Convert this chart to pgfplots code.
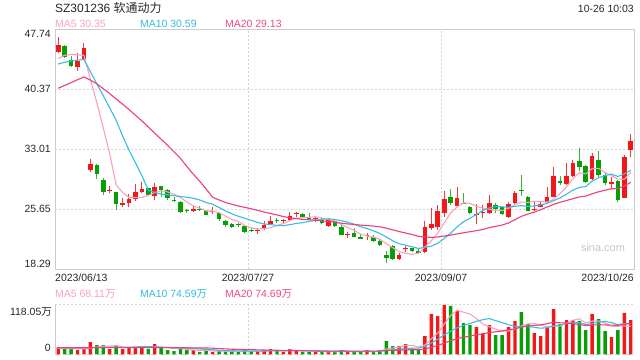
\documentclass[border=0pt]{standalone}
\usepackage{pgfplots}
\usepackage{pgfplotstable}
\pgfplotsset{compat=1.18}
\usepackage{fontspec}
\setmainfont{Liberation Sans}
\newfontfamily\cjk{Noto Sans CJK SC}
\definecolor{cred}{RGB}{242,24,24}
\definecolor{cgreen}{RGB}{6,160,6}
\definecolor{cma5}{RGB}{248,162,192}
\definecolor{cma10}{RGB}{56,190,226}
\definecolor{cma20}{RGB}{236,64,122}
\definecolor{tma5}{RGB}{247,163,196}
\definecolor{tma10}{RGB}{55,188,224}
\definecolor{tma20}{RGB}{236,75,130}
\definecolor{cframe}{RGB}{204,204,204}
\definecolor{cgrid}{RGB}{212,212,212}
\definecolor{ctext}{RGB}{40,40,40}

\pgfplotstableread{
i o h l c v
0 44.99 46.75 44.87 45.81 16.8
3 43.15 44.87 42.66 43.89 10.4
4 44.13 46.02 44.05 45.40 13.6
5 30.47 31.82 30.27 31.21 29.5
8 27.95 28.50 27.60 28.07 12.8
10 26.23 27.00 25.98 26.47 12.8
11 26.39 27.49 25.90 26.92 17.6
12 26.92 28.76 26.72 27.74 18.4
13 27.74 28.96 27.61 28.15 18.4
15 27.33 28.84 26.80 28.35 24.7
21 25.49 26.06 25.37 25.70 10.4
24 25.30 25.90 25.08 25.42 6.4
31 22.98 23.30 22.63 23.10 6.4
32 23.24 24.26 23.12 23.73 10.4
33 23.86 24.84 23.73 24.26 12.8
35 24.19 24.47 24.02 24.31 6.4
36 24.35 25.29 24.26 24.84 12.8
37 25.02 25.29 24.75 25.14 10.4
40 24.43 24.67 24.14 24.55 6.4
42 23.61 24.55 23.53 24.35 6.4
45 22.47 22.92 22.18 22.59 6.4
48 22.39 22.71 21.90 22.51 10.4
53 19.56 20.26 19.44 20.05 20.0
54 20.74 21.20 20.46 20.86 24.7
57 20.38 24.23 20.26 23.45 43.9
58 23.33 25.86 23.12 23.86 96.6
59 23.53 26.19 23.12 25.45 91.8
60 25.17 27.90 24.76 26.92 118.05
62 26.10 28.44 25.98 27.09 103.7
65 24.99 26.27 23.82 25.11 65.4
66 25.24 26.19 24.63 25.36 50.3
67 25.16 27.41 25.08 26.45 70.2
70 24.76 26.60 24.63 26.31 65.4
71 26.39 27.94 26.31 27.70 79.8
74 25.59 26.60 25.49 25.71 51.1
75 25.98 26.72 25.90 26.31 43.9
76 26.60 28.35 26.47 27.21 63.0
77 27.21 30.89 27.13 29.74 108.5
79 28.76 31.38 28.64 29.74 82.2
80 29.74 31.71 29.66 31.38 82.2
83 29.34 32.52 29.25 32.20 96.6
86 28.72 29.66 28.15 29.05 41.5
88 27.09 32.32 27.01 32.12 99.0
89 32.93 34.90 32.03 34.04 82.2
}\up

\pgfplotstableread{
i o h l c v
1 45.73 45.81 44.17 44.30 12.8
2 43.97 44.46 43.15 43.27 12.8
6 31.09 31.15 29.37 29.98 22.3
7 29.25 29.53 27.41 27.82 22.3
9 27.74 27.80 25.57 26.27 20.0
14 28.23 28.30 27.30 27.41 12.8
16 28.51 28.55 27.20 28.02 16.0
17 28.02 28.20 26.80 27.00 10.4
18 26.85 27.20 26.50 26.73 8.0
19 26.59 26.70 25.25 25.37 14.4
20 25.61 25.75 25.20 25.49 10.4
22 25.72 26.00 25.45 25.60 6.4
23 25.45 25.55 24.90 24.96 8.8
25 25.25 25.37 24.27 24.47 8.8
26 24.22 24.35 23.53 23.73 8.8
27 23.86 24.00 23.40 23.49 6.4
28 23.81 24.00 23.53 23.69 6.4
29 23.65 23.73 22.71 22.91 10.4
30 23.06 23.32 22.83 22.94 8.8
34 24.34 24.55 24.02 24.22 8.8
38 25.08 25.16 24.63 24.71 6.4
39 24.61 25.25 24.47 24.49 6.4
41 24.43 24.76 23.86 23.94 6.4
43 24.26 24.43 23.45 23.61 6.4
44 23.45 23.70 22.45 22.55 10.4
46 22.80 23.33 22.22 22.30 6.4
47 22.30 22.59 21.98 22.06 6.4
49 22.22 22.50 21.69 21.77 6.4
50 21.81 21.98 21.20 21.28 10.4
51 20.05 20.54 19.03 19.64 31.9
52 21.20 21.28 19.44 19.56 20.0
55 20.87 20.95 20.46 20.54 12.8
56 20.58 20.87 20.13 20.30 10.4
61 27.20 28.10 26.19 26.39 115.7
63 26.45 27.70 26.27 26.33 75.0
64 25.98 26.07 25.04 25.17 70.2
68 26.19 26.47 25.16 25.65 46.3
69 25.90 26.06 24.96 25.08 46.3
72 28.00 29.87 27.29 27.88 101.3
73 27.21 27.29 25.45 25.49 72.6
78 29.17 29.74 28.64 28.93 72.6
81 31.63 33.14 30.40 30.89 79.8
82 30.97 31.09 28.84 29.05 58.3
84 31.71 32.85 29.66 29.87 84.6
85 29.87 30.28 28.64 28.84 55.9
87 29.13 29.25 26.60 26.80 58.3
}\down

\pgfplotstableread{
i m5 m10 m20
0 44.17 43.48 40.50
1 44.55 43.70 40.85
2 44.66 43.85 41.20
3 44.62 43.95 41.55
4 44.53 44.05 41.90
5 41.61 42.55 41.50
6 38.75 41.05 41.05
7 35.66 39.60 40.45
8 32.49 38.10 39.85
9 28.66 36.60 39.20
10 27.71 34.66 38.55
11 27.10 32.93 37.90
12 27.09 31.37 37.20
13 27.11 29.80 36.50
14 27.34 28.00 35.75
15 27.71 27.71 35.00
16 27.93 27.52 34.25
17 27.79 27.44 33.50
18 27.51 27.31 32.70
19 27.10 27.22 31.91
20 26.54 27.13 30.90
21 26.07 27.00 29.97
22 25.80 26.80 29.08
23 25.45 26.48 28.14
24 25.44 26.27 27.14
25 25.23 25.88 26.80
26 24.83 25.45 26.49
27 24.40 25.10 26.27
28 24.16 24.80 26.06
29 23.67 24.56 25.89
30 23.38 24.30 25.71
31 23.24 24.04 25.52
32 23.29 23.85 25.32
33 23.39 23.78 25.13
34 23.66 23.67 24.97
35 23.91 23.65 24.76
36 24.27 23.76 24.61
37 24.55 23.92 24.51
38 24.64 24.01 24.41
39 24.69 24.18 24.37
40 24.74 24.33 24.31
41 24.56 24.42 24.23
42 24.41 24.48 24.16
43 24.19 24.41 24.09
44 23.79 24.24 23.95
45 23.40 24.07 23.86
46 23.07 23.82 23.79
47 22.61 23.51 23.71
48 22.38 23.29 23.65
49 22.23 23.01 23.59
50 21.97 22.69 23.51
51 21.44 22.26 23.34
52 20.94 21.78 23.13
53 20.46 21.42 22.92
54 20.27 21.25 22.74
55 20.12 21.05 22.56
56 20.25 20.85 22.33
57 21.03 20.98 22.25
58 21.79 21.13 22.21
59 22.72 21.49 22.25
60 24.00 22.06 22.37
61 25.21 22.73 22.49
62 25.94 23.49 22.63
63 26.45 24.12 22.77
64 26.39 24.56 22.90
65 26.02 25.01 23.03
66 25.80 25.51 23.18
67 25.67 25.81 23.40
68 25.52 25.99 23.56
69 25.51 25.95 23.72
70 25.76 25.89 23.97
71 26.24 26.02 24.38
72 26.54 26.10 24.79
73 26.50 26.01 25.07
74 26.62 26.06 25.31
75 26.62 26.19 25.60
76 26.52 26.38 25.94
77 26.88 26.71 26.26
78 27.57 27.04 26.51
79 28.39 27.50 26.73
80 29.40 28.01 26.95
81 30.14 28.33 27.17
82 30.00 28.44 27.27
83 30.65 29.11 27.56
84 30.68 29.53 27.80
85 30.17 29.79 27.99
86 29.80 29.97 28.17
87 29.35 29.68 28.19
88 29.34 29.99 28.52
89 30.17 30.42 28.96
}\ma

\pgfplotstableread{
i v5 v10 v20
0 15.0 16.5 16.2
1 14.6 16.3 16.2
2 14.2 16.0 16.2
3 13.8 15.8 16.1
4 13.3 15.6 16.1
5 15.8 16.0 16.2
6 17.7 16.5 16.3
7 19.6 17.0 16.4
8 20.1 17.2 16.4
9 21.4 17.3 16.4
10 18.0 16.9 16.4
11 17.1 17.4 16.5
12 16.3 18.0 16.5
13 17.4 18.8 16.5
14 16.0 18.7 16.5
15 18.4 18.2 16.6
16 18.1 17.6 16.5
17 16.5 16.4 16.4
18 14.4 15.9 16.4
19 14.7 15.4 16.3
20 11.8 15.1 16.0
21 10.7 14.4 15.9
22 9.9 13.2 15.6
23 10.1 12.2 15.5
24 8.5 11.6 15.1
25 8.2 10.0 14.1
26 7.8 9.3 13.4
27 7.8 8.9 12.6
28 7.4 8.7 12.3
29 8.2 8.3 11.8
30 8.2 8.2 11.6
31 7.7 7.8 11.1
32 8.5 8.2 10.7
33 9.8 8.6 10.4
34 9.4 8.8 10.2
35 9.0 8.6 9.3
36 10.2 9.0 9.1
37 10.2 9.4 9.1
38 9.0 9.4 9.0
39 8.5 9.0 8.6
40 8.5 8.7 8.4
41 7.2 8.7 8.2
42 6.4 8.3 8.2
43 6.4 7.7 8.1
44 7.2 7.8 8.3
45 7.2 7.8 8.2
46 7.2 7.2 8.1
47 7.2 6.8 8.1
48 8.0 7.2 8.3
49 7.2 7.2 8.1
50 8.0 7.6 8.2
51 13.1 10.2 9.4
52 15.8 11.5 9.9
53 17.7 12.9 10.3
54 21.4 14.3 11.1
55 21.9 14.9 11.4
56 17.6 15.3 11.3
57 22.4 19.1 12.9
58 37.7 27.7 17.5
59 51.1 36.3 21.7
60 72.2 47.0 27.3
61 93.2 55.4 32.8
62 105.2 63.8 37.6
63 100.9 69.3 41.1
64 96.5 73.8 44.1
65 86.0 79.1 47.0
66 72.9 83.1 49.2
67 66.2 85.7 52.4
68 60.5 80.7 54.2
69 55.7 76.1 56.2
70 55.7 70.9 58.9
71 61.6 67.3 61.3
72 67.8 67.0 65.4
73 73.1 66.8 68.0
74 74.0 64.9 69.3
75 69.7 62.7 70.9
76 66.4 64.0 73.5
77 67.8 67.8 76.8
78 67.8 70.5 75.6
79 74.0 74.0 75.1
80 81.7 75.7 73.3
81 85.1 75.7 71.5
82 75.0 71.4 69.2
83 79.8 73.8 70.3
84 80.3 77.2 71.0
85 75.0 78.4 70.5
86 67.4 76.2 70.1
87 67.4 71.2 69.5
88 67.9 73.8 72.1
89 67.4 73.8 73.9
}\vma

\begin{document}
\begin{tikzpicture}
\path[use as bounding box, fill=white] (0,0) rectangle (640bp,360bp);

% texts
\node[anchor=base west, inner sep=0, font=\fontsize{12}{14}\selectfont, text=ctext] at (55bp,347bp) {SZ301236 {\cjk 软通动力}};
\node[anchor=base east, inner sep=0, font=\fontsize{10.5}{12}\selectfont, text=ctext] at (634bp,347.5bp) {10-26 10:03};
\node[anchor=base west, inner sep=0, font=\fontsize{10.5}{12}\selectfont, text=tma5] at (55bp,332bp) {MA5 30.35};
\node[anchor=base west, inner sep=0, font=\fontsize{10.5}{12}\selectfont, text=tma10] at (140bp,332bp) {MA10 30.59};
\node[anchor=base west, inner sep=0, font=\fontsize{10.5}{12}\selectfont, text=tma20] at (225bp,332bp) {MA20 29.13};

\node[anchor=east, inner sep=0, font=\fontsize{10.5}{12}\selectfont, text=ctext] at (51bp,326.5bp) {47.74};
\node[anchor=east, inner sep=0, font=\fontsize{10.5}{12}\selectfont, text=ctext] at (51bp,96bp) {18.29};

\node[anchor=base west, inner sep=0, font=\fontsize{10.5}{12}\selectfont, text=ctext] at (55bp,78bp) {2023/06/13};
\node[anchor=base, inner sep=0, font=\fontsize{10.5}{12}\selectfont, text=ctext] at (248bp,78bp) {2023/07/27};
\node[anchor=base, inner sep=0, font=\fontsize{10.5}{12}\selectfont, text=ctext] at (441bp,78bp) {2023/09/07};
\node[anchor=base east, inner sep=0, font=\fontsize{10.5}{12}\selectfont, text=ctext] at (634bp,78bp) {2023/10/26};

\node[anchor=base west, inner sep=0, font=\fontsize{10.5}{12}\selectfont, text=tma5] at (55bp,62.5bp) {MA5 68.11{\cjk 万}};
\node[anchor=base west, inner sep=0, font=\fontsize{10.5}{12}\selectfont, text=tma10] at (140bp,62.5bp) {MA10 74.59{\cjk 万}};
\node[anchor=base west, inner sep=0, font=\fontsize{10.5}{12}\selectfont, text=tma20] at (225bp,62.5bp) {MA20 74.69{\cjk 万}};

\node[anchor=east, inner sep=0, font=\fontsize{10.5}{12}\selectfont, text=ctext] at (52bp,48bp) {118.05{\cjk 万}};
\node[anchor=east, inner sep=0, font=\fontsize{10.5}{12}\selectfont, text=ctext] at (51bp,12bp) {0};

\node[font=\fontsize{11}{12}\selectfont, text=black!22] at (603bp,112bp) {sina.com};

% price panel
\begin{axis}[
  at={(55bp,90.7bp)}, anchor=south west, scale only axis,
  width=579bp, height=240bp,
  xmin=-0.5, xmax=89.5, ymin=18.29, ymax=47.74,
  axis line style={draw=cframe, line width=0.8bp},
  xtick={29.5,59.5}, xticklabels={},
  ytick={25.65,33.01,40.37}, yticklabels={25.65,33.01,40.37},
  major tick length=0pt,
  xmajorgrids, ymajorgrids,
  grid style={draw=cgrid, line width=1bp, dash pattern=on 2bp off 2bp},
  yticklabel style={font=\fontsize{10.5}{12}\selectfont, text=ctext, inner sep=0pt, xshift=-4bp},
]
\addplot[draw=none, mark=none, error bars/.cd, y dir=plus, y explicit, error mark=none,
  error bar style={draw=cred!85!white, line width=1bp}]
  table[x=i, y=l, y error plus expr=\thisrow{h}-\thisrow{l}] \up;
\addplot[draw=none, mark=none, error bars/.cd, y dir=plus, y explicit, error mark=none,
  error bar style={draw=cgreen!80!white, line width=1bp}]
  table[x=i, y=l, y error plus expr=\thisrow{h}-\thisrow{l}] \down;
\addplot[draw=none, mark=none, error bars/.cd, y dir=plus, y explicit, error mark=none,
  error bar style={draw=cred, line width=4.6bp}]
  table[x=i, y=o, y error plus expr=\thisrow{c}-\thisrow{o}] \up;
\addplot[draw=none, mark=none, error bars/.cd, y dir=plus, y explicit, error mark=none,
  error bar style={draw=cgreen, line width=4.6bp}]
  table[x=i, y=c, y error plus expr=\thisrow{o}-\thisrow{c}] \down;
\addplot[cma5, line width=1.1bp, mark=none] table[x=i, y=m5] \ma;
\addplot[cma10, line width=1.1bp, mark=none] table[x=i, y=m10] \ma;
\addplot[cma20, line width=1.1bp, mark=none] table[x=i, y=m20] \ma;
\end{axis}

% volume panel
\begin{axis}[
  at={(55bp,5.5bp)}, anchor=south west, scale only axis,
  width=579bp, height=49.5bp,
  xmin=-0.5, xmax=89.5, ymin=0, ymax=118.05,
  axis line style={draw=none},
  xtick={29.5,59.5}, xticklabels={}, ytick=\empty,
  major tick length=0pt,
  xmajorgrids,
  grid style={draw=cgrid, line width=1bp, dash pattern=on 2bp off 2bp},
]
\addplot[ybar, bar width=3.4bp, bar shift=0pt, fill=cred, draw=none] table[x=i, y=v] \up;
\addplot[ybar, bar width=3.4bp, bar shift=0pt, fill=cgreen, draw=none] table[x=i, y=v] \down;
\addplot[cma5, line width=1.1bp, mark=none] table[x=i, y=v5] \vma;
\addplot[cma10, line width=1.1bp, mark=none] table[x=i, y=v10] \vma;
\addplot[cma20, line width=1.1bp, mark=none] table[x=i, y=v20] \vma;
\draw[cgrid, line width=1bp, dash pattern=on 2bp off 2bp] (rel axis cs:0,1) -- (rel axis cs:1,1);
\draw[cgrid, line width=1bp, dash pattern=on 2bp off 2bp] (rel axis cs:0,0) -- (rel axis cs:1,0);
\draw[cframe, line width=0.8bp] (rel axis cs:0,0) -- (rel axis cs:0,1);
\draw[cframe, line width=0.8bp] (rel axis cs:1,0) -- (rel axis cs:1,1);
\end{axis}
\end{tikzpicture}
\end{document}
